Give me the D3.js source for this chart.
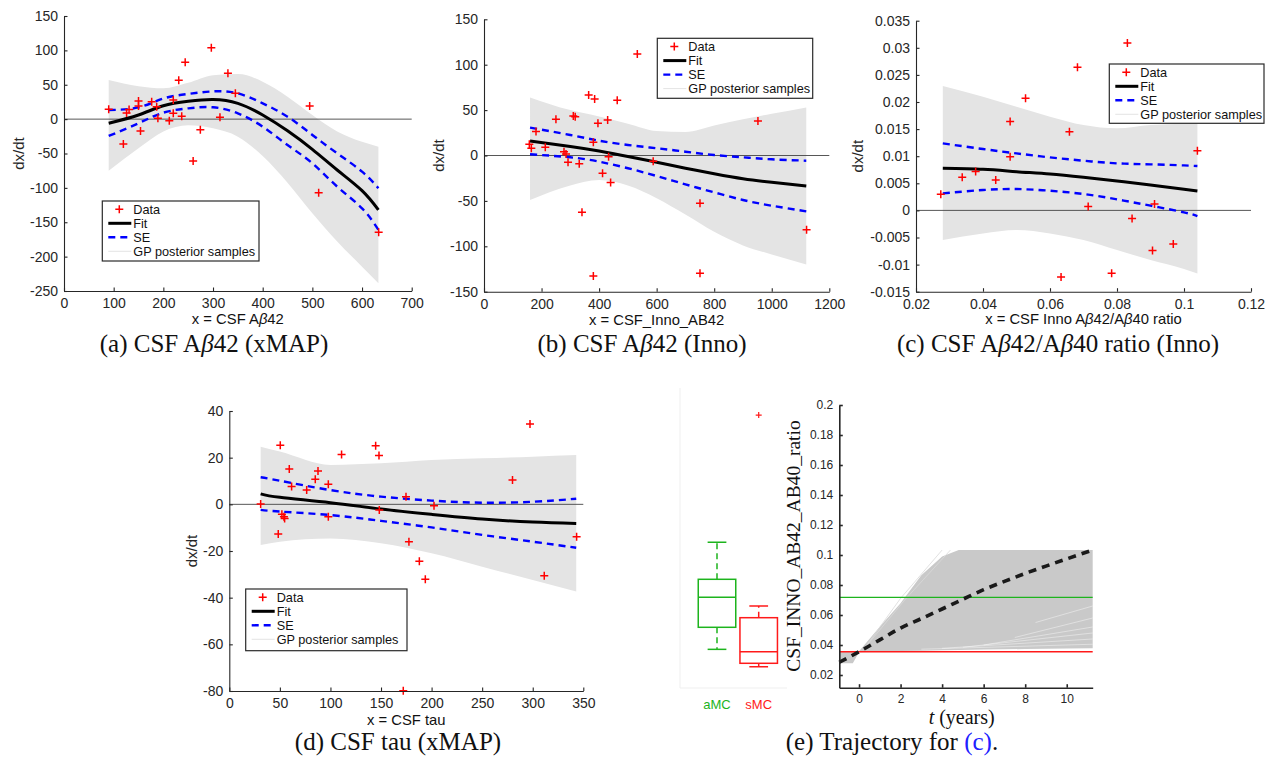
<!DOCTYPE html>
<html>
<head>
<meta charset="utf-8">
<script src="https://cdn.jsdelivr.net/npm/d3@7/dist/d3.min.js"></script>
<style>
body { margin: 0; background: #fff; }
svg { display: block; }
.ax path, .ax line { stroke: #262626; }
.ax text { fill: #262626; font-family: "Liberation Sans", Arial, sans-serif; }
</style>
</head>
<body>
<svg id="fig" width="1273" height="767"></svg>
<script>
var svg = d3.select('#fig');
var sans = '"Liberation Sans", Arial, sans-serif';
var serif = '"Liberation Serif", "Times New Roman", serif';

// (a) CSF Abeta42 (xMAP)
var aDataX = [90, 119.5, 126, 131, 150, 150, 154, 176.5, 186.6, 189, 212, 220, 220, 231, 237, 244, 260, 274.5, 296.6, 314, 330, 345, 494.6, 512.7, 633.5];
var aDataY = [14.3, -36.2, 9, 14, 26.4, 19.1, -17.3, 25.4, 18, 1.2, -2.2, 8.4, 27.8, 56.4, 4.1, 82.6, -60.9, -15.3, 103.9, 2.6, 66.6, 37.5, 19.1, -107, -164.6];
var aGridX = [90, 150, 200, 250, 300, 350, 400, 450, 500, 550, 600, 633];
var aFit = [-6, 6, 19.5, 26, 28.5, 23, 6, -17, -44, -74, -104, -132];
var aSeHi = [13.3, 17, 30, 36.6, 40.4, 37.5, 23, 3.6, -23, -49.7, -76.4, -100.6];
var aSeLo = [-24.5, -6, 9.4, 15.7, 17.2, 8.4, -11, -37.6, -64.3, -98.2, -129.7, -161];
var aGpHi = [57, 48, 45, 53, 64, 65.6, 54.5, 32.7, 6, -18, -33, -40];
var aGpLo = [-75, -42.5, -18, -9, -13.4, -25.5, -53.6, -92.4, -137, -178, -214.6, -238.8];
var aXTicks = [0, 100, 200, 300, 400, 500, 600, 700];
var aXLabels = ['0', '100', '200', '300', '400', '500', '600', '700'];
var aYTicks = [-250, -200, -150, -100, -50, 0, 50, 100, 150];
var aYLabels = ['-250', '-200', '-150', '-100', '-50', '0', '50', '100', '150'];

// (b) CSF Abeta42 (Inno)
var bDataX = [157.5, 164.5, 180.7, 213, 250, 278, 285, 292, 310.4, 317, 331, 340.5, 363.7, 380, 384.5, 380, 396, 412, 429.7, 433, 440, 463, 532.8, 588, 750.6, 750.6, 952, 1121];
var bDataY = [12.3, 7.9, 26.3, 9, 39.8, 4.2, 1.6, -7.5, 43.5, 42.8, -9, -62.6, 66.6, 14.5, 62.2, -132.7, 35.4, -19.6, 39.1, -1.3, -29.6, 60.8, 111.8, -6.4, -52.7, -129.8, 38, -81.7];
var bGridX = [160, 300, 400, 500, 600, 700, 800, 900, 1000, 1120];
var bFit = [16, 10, 5, -1, -7.5, -14, -20, -25.5, -29.5, -33.5];
var bSeHi = [30.7, 22.6, 16.3, 11.6, 8, 4.2, 0.5, -2, -4.2, -5.7];
var bSeLo = [1.3, -2, -6.8, -14, -22.6, -31.8, -40.6, -49, -55.3, -61.5];
var bGpHi = [64, 50, 43, 35, 27, 26, 33, 40, 46, 53];
var bGpLo = [-49, -33, -27, -33, -47, -65, -84, -99, -109, -120];
var bXTicks = [0, 200, 400, 600, 800, 1000, 1200];
var bXLabels = ['0', '200', '400', '600', '800', '1000', '1200'];
var bYTicks = [-150, -100, -50, 0, 50, 100, 150];
var bYLabels = ['-150', '-100', '-50', '0', '50', '100', '150'];

// (c) CSF Abeta42/Abeta40 ratio (Inno)
var cDataX = [0.0274, 0.0338, 0.0378, 0.0438, 0.0481, 0.0481, 0.0527, 0.0633, 0.0658, 0.0682, 0.0714, 0.0784, 0.0831, 0.0845, 0.0906, 0.0912, 0.0968, 0.1040];
var cDataY = [0.0030, 0.0061, 0.0072, 0.0056, 0.0164, 0.0099, 0.0207, -0.0123, 0.0145, 0.0264, 0.0007, -0.0116, 0.0309, -0.0015, -0.0074, 0.0012, -0.0062, 0.0110];
var cGridX = [0.028, 0.04, 0.05, 0.06, 0.07, 0.08, 0.09, 0.1, 0.104];
var cFit = [0.00776, 0.00757, 0.00714, 0.00671, 0.0061, 0.00542, 0.00468, 0.00389, 0.00357];
var cSeHi = [0.01237, 0.01132, 0.01052, 0.00978, 0.00917, 0.00868, 0.0085, 0.0083, 0.00819];
var cSeLo = [0.00314, 0.00376, 0.00394, 0.00363, 0.00302, 0.00204, 0.00087, -0.00036, -0.00104];
var cGpHi = [0.02295, 0.02098, 0.01913, 0.01729, 0.01575, 0.01514, 0.01575, 0.016, 0.01606];
var cGpLo = [-0.00547, -0.00424, -0.00362, -0.00424, -0.00547, -0.00731, -0.00916, -0.0108, -0.01162];
var cXTicks = [0.02, 0.04, 0.06, 0.08, 0.1, 0.12];
var cXLabels = ['0.02', '0.04', '0.06', '0.08', '0.1', '0.12'];
var cYTicks = [-0.015, -0.01, -0.005, 0, 0.005, 0.01, 0.015, 0.02, 0.025, 0.03, 0.035];
var cYLabels = ['-0.015', '-0.01', '-0.005', '0', '0.005', '0.01', '0.015', '0.02', '0.025', '0.03', '0.035'];

// (d) CSF tau (xMAP)
var dDataX = [31, 48.4, 50.4, 52, 54, 54.7, 59.3, 61.6, 76.5, 85, 87.7, 97.9, 97.9, 111, 144.7, 148, 148.3, 174.7, 172, 177.6, 187.9, 193.8, 202.4, 280, 297.3, 311.4, 343.4];
var dDataY = [0.1, -12.7, 25.3, -4.3, -5.3, -6.1, 15.1, 7.6, 6.1, 10.7, 14.3, 8.6, -5.3, 21.4, 25.1, 20.9, -2.4, 3.3, -79.9, -16, -24.4, -32.1, -0.6, 10.4, 34.4, -30.6, -13.9];
var dGridX = [31, 50, 100, 150, 200, 250, 300, 343];
var dFit = [4.5, 3, 0.7, -2, -4.3, -6.3, -7.6, -8.2];
var dSeHi = [11.6, 10.1, 6.1, 3.3, 1.6, 0.7, 1.1, 2.4];
var dSeLo = [-2.4, -3.1, -4.6, -7.1, -9.9, -13.1, -16, -18.6];
var dGpHi = [24.7, 22.6, 16.9, 17.6, 19, 19.7, 20.4, 21.1];
var dGpLo = [-17.4, -16, -14.6, -16.7, -21, -26.7, -32.4, -37.4];
var dXTicks = [0, 50, 100, 150, 200, 250, 300, 350];
var dXLabels = ['0', '50', '100', '150', '200', '250', '300', '350'];
var dYTicks = [-80, -60, -40, -20, 0, 20, 40];
var dYLabels = ['-80', '-60', '-40', '-20', '0', '20', '40'];

// (e) trajectory for (c)
var eMeanT = [-0.95, 0, 1, 2, 3, 4, 5, 6, 7, 8, 9, 10, 11.25];
var eMean = [0.0285, 0.0355, 0.0434, 0.0513, 0.0576, 0.064, 0.0705, 0.0769, 0.0824, 0.0877, 0.0926, 0.0974, 0.1033];
var eBandT = [-0.95, -0.3, 0, 1, 2, 3, 4, 4.8, 6, 8, 10, 11.25];
var eBandHi = [0.0358, 0.0358, 0.0358, 0.0522, 0.0678, 0.0865, 0.099, 0.1033, 0.1033, 0.1033, 0.1033, 0.1033];
var eBandLo = [0.0278, 0.0278, 0.0352, 0.0356, 0.036, 0.0362, 0.0365, 0.0367, 0.037, 0.0373, 0.0376, 0.0378];
var eFaintT = [[0.3, 2, 4], [0.3, 2.2, 4.4]];
var eFaintV = [[0.0385, 0.0711, 0.1033], [0.0385, 0.07, 0.1033]];
var eGapT = [[3, 11.25], [4, 11.25], [5, 11.25], [6, 11.25], [7.5, 11.25], [8.5, 11.25]];
var eGapV = [[0.0372, 0.0405], [0.0378, 0.044], [0.0385, 0.048], [0.040, 0.052], [0.045, 0.058], [0.055, 0.066]];
var eGroups = ['aMC', 'sMC'];
var eGroupLevel = [0.0718, 0.0355];
var eWhiskLo = [0.0371, 0.0255];
var eQ1 = [0.0518, 0.0278];
var eMedian = [0.0718, 0.0355];
var eQ3 = [0.0838, 0.0582];
var eWhiskHi = [0.1085, 0.066];
var eOutlierGroup = ['sMC'];
var eOutlier = [0.1933];
var eXTicks = [0, 2, 4, 6, 8, 10];
var eXLabels = ['0', '2', '4', '6', '8', '10'];
var eYTicks = [0.02, 0.04, 0.06, 0.08, 0.1, 0.12, 0.14, 0.16, 0.18, 0.2];
var eYLabels = ['0.02', '0.04', '0.06', '0.08', '0.1', '0.12', '0.14', '0.16', '0.18', '0.2'];

var legendNames = ['Data', 'Fit', 'SE', 'GP posterior samples'];

function plus(g, x, y, r, color, w) {
	g.append('path')
		.attr('d', 'M' + (x - r) + ',' + y + 'H' + (x + r) + 'M' + x + ',' + (y - r) + 'V' + (y + r))
		.attr('stroke', color)
		.attr('stroke-width', w)
		.attr('fill', 'none');
}

function richText(g, x, y, parts, size, family, anchor) {
	var t = g.append('text')
		.attr('x', x).attr('y', y)
		.attr('font-size', size)
		.attr('font-family', family)
		.attr('text-anchor', anchor || 'middle')
		.attr('fill', '#111');
	parts.forEach(function (p) {
		var s = t.append('tspan').text(p[0]);
		if (p[1]) s.attr('font-style', 'italic');
		if (p[2]) s.attr('fill', p[2]);
	});
	return t;
}

function axes(g, sx, sy, xt, xl, yt, yl, fs, width) {
	var xa = d3.axisBottom(sx).tickValues(xt).tickFormat(function (d, i) { return xl[i]; })
		.tickSizeInner(-3.5).tickSizeOuter(0).tickPadding(7);
	var ya = d3.axisLeft(sy).tickValues(yt).tickFormat(function (d, i) { return yl[i]; })
		.tickSizeInner(-3.5).tickSizeOuter(0).tickPadding(6);
	var gx = g.append('g').attr('class', 'ax').attr('transform', 'translate(0,' + sy.range()[0] + ')').call(xa);
	var gy = g.append('g').attr('class', 'ax').attr('transform', 'translate(' + sx.range()[0] + ',0)').call(ya);
	[gx, gy].forEach(function (a) {
		a.attr('font-size', null).attr('font-family', null);
		a.selectAll('text').attr('font-size', fs);
		a.selectAll('path, line').attr('stroke-width', width);
	});
}

function legend(g, x, y, w, h) {
	g.append('rect').attr('x', x).attr('y', y).attr('width', w).attr('height', h)
		.attr('fill', '#fff').attr('stroke', '#2a2a2a').attr('stroke-width', 1.2);
	var rows = [8.3, 22.3, 36.3, 50.3];
	plus(g, x + 17, y + rows[0], 4, '#ff0000', 1.5);
	g.append('line').attr('x1', x + 6).attr('x2', x + 29).attr('y1', y + rows[1]).attr('y2', y + rows[1])
		.attr('stroke', '#000').attr('stroke-width', 3);
	g.append('line').attr('x1', x + 6).attr('x2', x + 29).attr('y1', y + rows[2]).attr('y2', y + rows[2])
		.attr('stroke', '#0000ff').attr('stroke-width', 2.4).attr('stroke-dasharray', '7,5');
	g.append('line').attr('x1', x + 6).attr('x2', x + 29).attr('y1', y + rows[3]).attr('y2', y + rows[3])
		.attr('stroke', '#dcdcdc').attr('stroke-width', 0.8);
	legendNames.forEach(function (name, i) {
		g.append('text').attr('x', x + 31).attr('y', y + rows[i] + 4.6)
			.attr('font-size', 12.7).attr('font-family', sans).attr('fill', '#111').text(name);
	});
}

function derivPanel(p) {
	var g = svg.append('g');
	var sx = d3.scaleLinear().domain(p.xDomain).range(p.xRange);
	var sy = d3.scaleLinear().domain(p.yDomain).range(p.yRange);
	var idx = d3.range(p.gridX.length);

	var band = d3.area().curve(d3.curveMonotoneX)
		.x(function (i) { return sx(p.gridX[i]); })
		.y0(function (i) { return sy(p.gpLo[i]); })
		.y1(function (i) { return sy(p.gpHi[i]); });
	g.append('path').attr('d', band(idx)).attr('fill', '#e4e4e4');

	g.append('line').attr('x1', sx(p.xDomain[0])).attr('x2', sx(p.xDomain[1]))
		.attr('y1', sy(0)).attr('y2', sy(0)).attr('stroke', '#444').attr('stroke-width', 0.9);

	function curveOf(vals) {
		return d3.line().curve(d3.curveNatural)
			.x(function (i) { return sx(p.gridX[i]); })
			.y(function (i) { return sy(vals[i]); })(idx);
	}
	[p.seHi, p.seLo].forEach(function (v) {
		g.append('path').attr('d', curveOf(v)).attr('fill', 'none')
			.attr('stroke', '#0000ff').attr('stroke-width', 2.4).attr('stroke-dasharray', '7,5');
	});
	g.append('path').attr('d', curveOf(p.fit)).attr('fill', 'none')
		.attr('stroke', '#000').attr('stroke-width', 3);

	p.dataX.forEach(function (v, i) {
		plus(g, sx(v), sy(p.dataY[i]), 4, '#ff0000', 1.5);
	});

	axes(g, sx, sy, p.xTicks, p.xLabels, p.yTicks, p.yLabels, 14, 1.1);

	richText(g, (p.xRange[0] + p.xRange[1]) / 2, p.xLabelY, p.xLabel, 14.8, sans);
	g.append('text')
		.attr('transform', 'translate(' + p.yLabelX + ',' + (p.yRange[0] + p.yRange[1]) / 2 + ') rotate(-90)')
		.attr('text-anchor', 'middle').attr('font-size', 15).attr('font-family', sans)
		.attr('fill', '#262626').text('dx/dt');

	legend(g, p.legend[0], p.legend[1], p.legend[2], p.legend[3]);
	richText(g, p.captionX, p.captionY, p.caption, 25, serif);
}

derivPanel({
	dataX: aDataX, dataY: aDataY, gridX: aGridX, fit: aFit, seHi: aSeHi, seLo: aSeLo, gpHi: aGpHi, gpLo: aGpLo,
	xTicks: aXTicks, xLabels: aXLabels, yTicks: aYTicks, yLabels: aYLabels,
	xDomain: [0, 700], xRange: [64, 411.7], yDomain: [-250, 150], yRange: [291, 16],
	xLabel: [['x = CSF A'], ['\u03b2', true], ['42']], xLabelY: 324, yLabelX: 23.5,
	legend: [102.3, 201, 156.7, 60],
	caption: [['(a) CSF A'], ['\u03b2', true], ['42 (xMAP)']], captionX: 214, captionY: 352
});

derivPanel({
	dataX: bDataX, dataY: bDataY, gridX: bGridX, fit: bFit, seHi: bSeHi, seLo: bSeLo, gpHi: bGpHi, gpLo: bGpLo,
	xTicks: bXTicks, xLabels: bXLabels, yTicks: bYTicks, yLabels: bYLabels,
	xDomain: [0, 1200], xRange: [484, 829.3], yDomain: [-150, 150], yRange: [291.7, 19.3],
	xLabel: [['x = CSF_Inno_AB42']], xLabelY: 325, yLabelX: 444,
	legend: [657.3, 38.3, 155.4, 60],
	caption: [['(b) CSF A'], ['\u03b2', true], ['42 (Inno)']], captionX: 642, captionY: 352
});

derivPanel({
	dataX: cDataX, dataY: cDataY, gridX: cGridX, fit: cFit, seHi: cSeHi, seLo: cSeLo, gpHi: cGpHi, gpLo: cGpLo,
	xTicks: cXTicks, xLabels: cXLabels, yTicks: cYTicks, yLabels: cYLabels,
	xDomain: [0.02, 0.12], xRange: [916, 1251], yDomain: [-0.015, 0.035], yRange: [291.7, 20.7],
	xLabel: [['x = CSF Inno A'], ['\u03b2', true], ['42/A'], ['\u03b2', true], ['40 ratio']], xLabelY: 324, yLabelX: 863.3,
	legend: [1109.3, 64, 154.7, 59.3],
	caption: [['(c) CSF A'], ['\u03b2', true], ['42/A'], ['\u03b2', true], ['40 ratio (Inno)']], captionX: 1058, captionY: 352
});

derivPanel({
	dataX: dDataX, dataY: dDataY, gridX: dGridX, fit: dFit, seHi: dSeHi, seLo: dSeLo, gpHi: dGpHi, gpLo: dGpLo,
	xTicks: dXTicks, xLabels: dXLabels, yTicks: dYTicks, yLabels: dYLabels,
	xDomain: [0, 350], xRange: [229.3, 583.3], yDomain: [-80, 40], yRange: [691, 411],
	xLabel: [['x = CSF tau']], xLabelY: 725, yLabelX: 197.3,
	legend: [245.7, 589, 161.3, 61.7],
	caption: [['(d) CSF tau (xMAP)']], captionX: 398, captionY: 750
});

// panel (e): box plots + trajectory
function trajectoryPanel() {
	var g = svg.append('g');
	var sx = d3.scaleLinear().domain([-0.95, 11.25]).range([839.3, 1092.7]);
	var sy = d3.scaleLinear().domain([0.01153, 0.2]).range([687.7, 405]);
	var bx = d3.scalePoint().domain(eGroups).range([717, 758.7]);
	var colors = ['#1db41d', '#ff1a1a'];
	var boxW = 37.5;

	g.append('path').attr('d', 'M680,388V688H787').attr('fill', 'none').attr('stroke', '#efefef');

	eGroups.forEach(function (name, i) {
		var cx = bx(name);
		var c = colors[i];
		g.append('line').attr('x1', cx).attr('x2', cx).attr('y1', sy(eQ3[i])).attr('y2', sy(eWhiskHi[i]))
			.attr('stroke', c).attr('stroke-width', 1.5).attr('stroke-dasharray', '6,4');
		g.append('line').attr('x1', cx).attr('x2', cx).attr('y1', sy(eQ1[i])).attr('y2', sy(eWhiskLo[i]))
			.attr('stroke', c).attr('stroke-width', 1.5).attr('stroke-dasharray', '6,4');
		[eWhiskHi[i], eWhiskLo[i]].forEach(function (v) {
			g.append('line').attr('x1', cx - boxW / 4).attr('x2', cx + boxW / 4).attr('y1', sy(v)).attr('y2', sy(v))
				.attr('stroke', c).attr('stroke-width', 1.5);
		});
		g.append('rect').attr('x', cx - boxW / 2).attr('width', boxW)
			.attr('y', sy(eQ3[i])).attr('height', sy(eQ1[i]) - sy(eQ3[i]))
			.attr('fill', 'none').attr('stroke', c).attr('stroke-width', 1.5);
		g.append('line').attr('x1', cx - boxW / 2).attr('x2', cx + boxW / 2).attr('y1', sy(eMedian[i])).attr('y2', sy(eMedian[i]))
			.attr('stroke', c).attr('stroke-width', 1.5);
		g.append('text').attr('x', cx).attr('y', 709).attr('text-anchor', 'middle')
			.attr('font-size', 13).attr('font-family', sans).attr('fill', c).text(name);
	});
	eOutlier.forEach(function (v, i) {
		plus(g, bx(eOutlierGroup[i]), sy(v), 3, '#ff1a1a', 1.2);
	});

	var idx = d3.range(eBandT.length);
	var band = d3.area()
		.x(function (i) { return sx(eBandT[i]); })
		.y0(function (i) { return sy(eBandLo[i]); })
		.y1(function (i) { return sy(eBandHi[i]); });
	g.append('path').attr('d', band(idx)).attr('fill', '#c9c9c9');

	function poly(ts, vs) {
		return d3.line().x(function (i) { return sx(ts[i]); }).y(function (i) { return sy(vs[i]); })(d3.range(ts.length));
	}
	eFaintT.forEach(function (ts, i) {
		g.append('path').attr('d', poly(ts, eFaintV[i])).attr('fill', 'none').attr('stroke', '#d9d9d9').attr('stroke-width', 0.8);
	});
	eGapT.forEach(function (ts, i) {
		g.append('path').attr('d', poly(ts, eGapV[i])).attr('fill', 'none').attr('stroke', '#fff')
			.attr('stroke-width', 0.7).attr('stroke-opacity', 0.6);
	});

	eGroupLevel.forEach(function (v, i) {
		g.append('line').attr('x1', sx.range()[0]).attr('x2', sx.range()[1]).attr('y1', sy(v)).attr('y2', sy(v))
			.attr('stroke', colors[i]).attr('stroke-width', 1.3);
	});

	g.append('path').attr('d', d3.line().curve(d3.curveMonotoneX)
			.x(function (i) { return sx(eMeanT[i]); })
			.y(function (i) { return sy(eMean[i]); })(d3.range(eMeanT.length)))
		.attr('fill', 'none').attr('stroke', '#1a1a1a').attr('stroke-width', 3.6).attr('stroke-dasharray', '8,6');

	axes(g, sx, sy, eXTicks, eXLabels, eYTicks, eYLabels, 12, 1.6);

	g.append('text')
		.attr('transform', 'translate(800,546) rotate(-90)')
		.attr('text-anchor', 'middle').attr('font-size', 19.5).attr('font-family', serif)
		.attr('fill', '#111').text('CSF_INNO_AB42_AB40_ratio');
	richText(g, 961.7, 724, [['t', true], [' (years)']], 20, serif);
	richText(g, 892, 750, [['(e) Trajectory for '], ['(c)', false, '#2020ff'], ['.']], 25, serif);
}

trajectoryPanel();
</script>
</body>
</html>
